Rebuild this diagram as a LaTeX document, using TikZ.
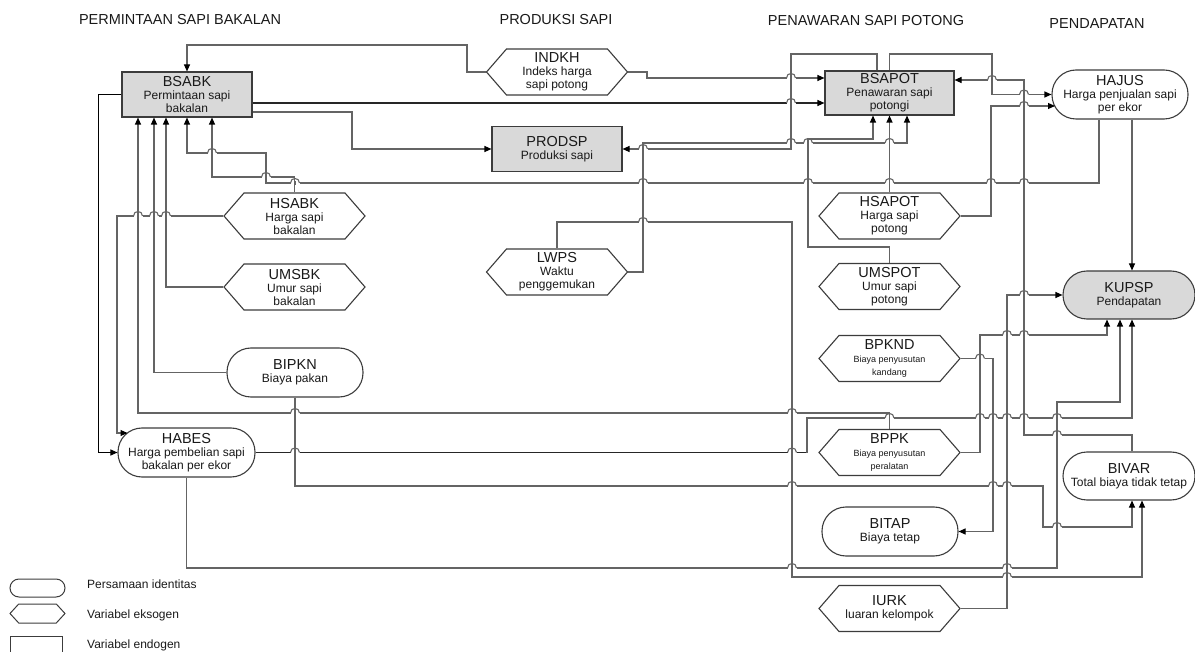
\documentclass[tikz,border=0pt]{standalone}
\usepackage{fontspec}
\setmainfont{Liberation Sans}
\usetikzlibrary{shapes.symbols,arrows.meta}
\definecolor{linegray}{RGB}{100,100,100}
\definecolor{edge}{RGB}{60,60,60}
\definecolor{boxgray}{RGB}{217,217,217}
\definecolor{txt}{RGB}{25,25,25}
\newcommand\subf{\fontsize{12}{13}\selectfont}
\newcommand\ttlf{\fontsize{14.5}{15.5}\selectfont}
\newcommand\smf{\fontsize{9}{11}\selectfont}
\newcommand\myhop[2]{%
  \fill[white] ({#1-4.5},{#2-1.7}) rectangle ({#1+4.5},{#2+1.7});
  \draw[conn] ({#1-4.5},#2) .. controls ({#1-4.5},{#2-6}) and ({#1+4.5},{#2-6}) .. ({#1+4.5},#2);
  \draw[conn] (#1,{#2-2.2}) -- (#1,{#2+2.2});}
\tikzset{
  conn/.style={draw=linegray, line width=1.1pt},
  arr/.style={conn, -{Triangle[length=7pt,width=6pt,color=black]}},
  endo/.style={draw=edge, line width=1.1pt, fill=boxgray, rectangle, minimum width=130pt, minimum height=45pt, align=center, inner sep=0pt, font=\subf, text=txt},
  exo/.style={draw=edge, line width=1.1pt, fill=white, signal, signal to=west and east, signal pointer angle=98, minimum width=141pt, minimum height=46pt, align=center, inner sep=0pt, font=\subf, text=txt},
  ident/.style={draw=edge, line width=1.1pt, fill=white, rectangle, rounded corners=24pt, minimum width=136pt, minimum height=49pt, align=center, inner sep=0pt, font=\subf, text=txt},
  heading/.style={font=\ttlf, text=txt, inner sep=0pt},
  legtxt/.style={font=\subf, text=txt, anchor=west, inner sep=0pt}
}
\begin{document}
\begin{tikzpicture}[x=1pt,y=-1pt]
\useasboundingbox (0,0) rectangle (1195,652);

% headings
\node[heading] (h1) at (180,20) {PERMINTAAN SAPI BAKALAN};
\node[heading] (h2) at (556,20) {PRODUKSI SAPI};
\node[heading] (h3) at (866,21) {PENAWARAN SAPI POTONG};
\node[heading] (h4) at (1097,24) {PENDAPATAN};

% nodes
\node[endo] (BSABK) at (187,94.5) {{\ttlf BSABK}\\Permintaan sapi\\bakalan};
\node[exo] (INDKH) at (557,72) {{\ttlf INDKH}\\Indeks harga\\sapi potong};
\node[endo] (PRODSP) at (557,149) {{\ttlf PRODSP}\\Produksi sapi};
\node[endo, minimum width=129pt, minimum height=44pt] (BSAPOT) at (889.5,93) {{\ttlf BSAPOT}\\Penawaran sapi\\potongi};
\node[ident] (HAJUS) at (1120,94.5) {{\ttlf HAJUS}\\Harga penjualan sapi\\per ekor};
\node[exo] (HSABK) at (294.5,216) {{\ttlf HSABK}\\Harga sapi\\bakalan};
\node[exo] (UMSBK) at (294.5,287) {{\ttlf UMSBK}\\Umur sapi\\bakalan};
\node[ident] (BIPKN) at (295,372.5) {{\ttlf BIPKN}\\Biaya pakan};
\node[ident, minimum width=137pt] (HABES) at (186.5,452.5) {{\ttlf HABES}\\Harga pembelian sapi\\bakalan per ekor};
\node[exo] (LWPS) at (557,272) {{\ttlf LWPS}\\Waktu\\penggemukan};
\node[exo] (HSAPOT) at (889.5,216) {{\ttlf HSAPOT}\\Harga sapi\\potong};
\node[exo] (UMSPOT) at (889.5,286.5) {{\ttlf UMSPOT}\\Umur sapi\\potong};
\node[exo] (BPKND) at (889.5,358.5) {{\ttlf BPKND}\\{\smf Biaya penyusutan}\\{\smf kandang}};
\node[ident, fill=boxgray, minimum width=132pt, minimum height=48pt] (KUPSP) at (1129,295) {{\ttlf KUPSP}\\Pendapatan};
\node[exo] (BPPK) at (889.5,452.5) {{\ttlf BPPK}\\{\smf Biaya penyusutan}\\{\smf peralatan}};
\node[ident, minimum width=132pt, minimum height=48pt] (BIVAR) at (1129,476) {{\ttlf BIVAR}\\Total biaya tidak tetap};
\node[ident] (BITAP) at (890,531.5) {{\ttlf BITAP}\\Biaya tetap};
\node[exo] (IURK) at (889.5,608.5) {{\ttlf IURK}\\luaran kelompok};

\coordinate (habesin) at (127.5,433);
\coordinate (hajusin) at (1055,106);
\coordinate (habesturn) at (807,452.5);

% connectors
\draw[arr] (INDKH.west) -| (467,45) -| (BSABK.north);
\draw[arr] (INDKH.east) -- (647,72) -- (647,78) -- (BSAPOT.west |- 0,78);
\draw[arr, draw=black!85] (BSABK.east |- 0,103) -- (BSAPOT.west |- 0,103);
\draw[arr] (BSABK.east |- 0,112) -| (PRODSP.west -| 352,0) -- (PRODSP.west);
\draw[arr, draw=black, line width=1pt] (BSABK.west |- 0,95) -| (HABES.west -| 98,0) -- (HABES.west);
\draw[arr] (HSABK.north) |- (212,177) -- (BSABK.south -| 212,0);
\draw[arr] (HAJUS.south -| 1099,0) |- (266,183) |- (187,153) -- (BSABK.south);
\draw[arr] (UMSBK.west) -| (BSABK.south -| 166,0);
\draw[arr] (BIPKN.west) -| (BSABK.south -| 154,0);
\draw[arr] (BPPK.north) |- (138,413) -- (BSABK.south -| 138,0);
\draw[arr] (HSABK.west) -| (117,433) -- (habesin);
\draw[arr] (UMSPOT.north) |- (808,247) |- (873,139) -- (BSAPOT.south -| 873,0);
\draw[arr] (LWPS.east) -| (643,143) -| (BSAPOT.south -| 907,0);
\draw[arr] (BSAPOT.north -| 877,0) |- (791,54) |- (PRODSP.east);
\draw[arr] (BSAPOT.north) |- (992,54) |- (HAJUS.west);
\draw[arr] (LWPS.north) |- (792,222) |- (1142,577) -- (BIVAR.south -| 1142,0);
\draw[arr] (HSAPOT.east) -| (991,106) -- (hajusin);
\draw[arr] (BIVAR.north -| 1132,0) |- (1024,435) |- (BSAPOT.east |- 0,80);
\draw[arr] (HAJUS.south -| 1132,0) -- (KUPSP.north -| 1132,0);
\draw[arr] (HABES.south) |- (1057,568) |- (1120,402) -- (KUPSP.south -| 1120,0);
\draw[conn, draw=black!85, line width=1pt] (HABES.east) -- (habesturn);
\draw[arr] (habesturn) |- (1132,418) -- (KUPSP.south -| 1132,0);
\draw[arr] (BPPK.east) -| (980,335) -| (KUPSP.south -| 1107,0);
\draw[arr] (BPKND.east) -| (BITAP.east -| 993,0) -- (BITAP.east);
\draw[arr] (IURK.east) -| (KUPSP.west -| 1007,0) -- (KUPSP.west);
\draw[arr] (BIPKN.south) |- (1043,486) |- (1132,527) -- (BIVAR.south -| 1132,0);
\draw[arr] (HSAPOT.north) -- (BSAPOT.south);

% hops
\foreach \hx in {1024,991,889.5,808,643,295} {\myhop{\hx}{183}}
\myhop{212}{153}
\myhop{266}{177}
\myhop{791}{78}
\myhop{791}{103}
\foreach \hx in {791,808,889.5} {\myhop{\hx}{143}}
\myhop{643}{149}
\myhop{643}{222}
\foreach \hx in {138,154,166} {\myhop{\hx}{216}}
\foreach \hx in {295,792} {\myhop{\hx}{413}}
\foreach \hx in {295,792} {\myhop{\hx}{452.5}}
\foreach \hx in {889.5,980,993,1007,1024,1057} {\myhop{\hx}{418}}
\foreach \hx in {792,1007} {\myhop{\hx}{568}}
\foreach \hx in {792,993,1007} {\myhop{\hx}{486}}
\myhop{1057}{527}
\myhop{1007}{577}
\foreach \hx in {1007,1024} {\myhop{\hx}{335}}
\myhop{980}{358.5}
\myhop{1024}{295}
\myhop{1057}{435}
\myhop{992}{80}
\myhop{1024}{94.5}
\myhop{1024}{106}

% legend
\node[draw=edge, line width=1pt, rectangle, rounded corners=9pt, minimum width=55pt, minimum height=18pt, inner sep=0pt] (lg1) at (37.5,588) {};
\node[draw=edge, line width=1pt, signal, signal to=west and east, signal pointer angle=95, minimum width=55pt, minimum height=19pt, inner sep=0pt] (lg2) at (37.5,613.5) {};
\draw[draw=edge, line width=1pt] (10,653) -- (10,636) -- (62,636) -- (62,653);
\node[legtxt] (lt1) at (87,584) {Persamaan identitas};
\node[legtxt] (lt2) at (87,615) {Variabel eksogen};
\node[legtxt] (lt3) at (87,645) {Variabel endogen};
\end{tikzpicture}
\end{document}
